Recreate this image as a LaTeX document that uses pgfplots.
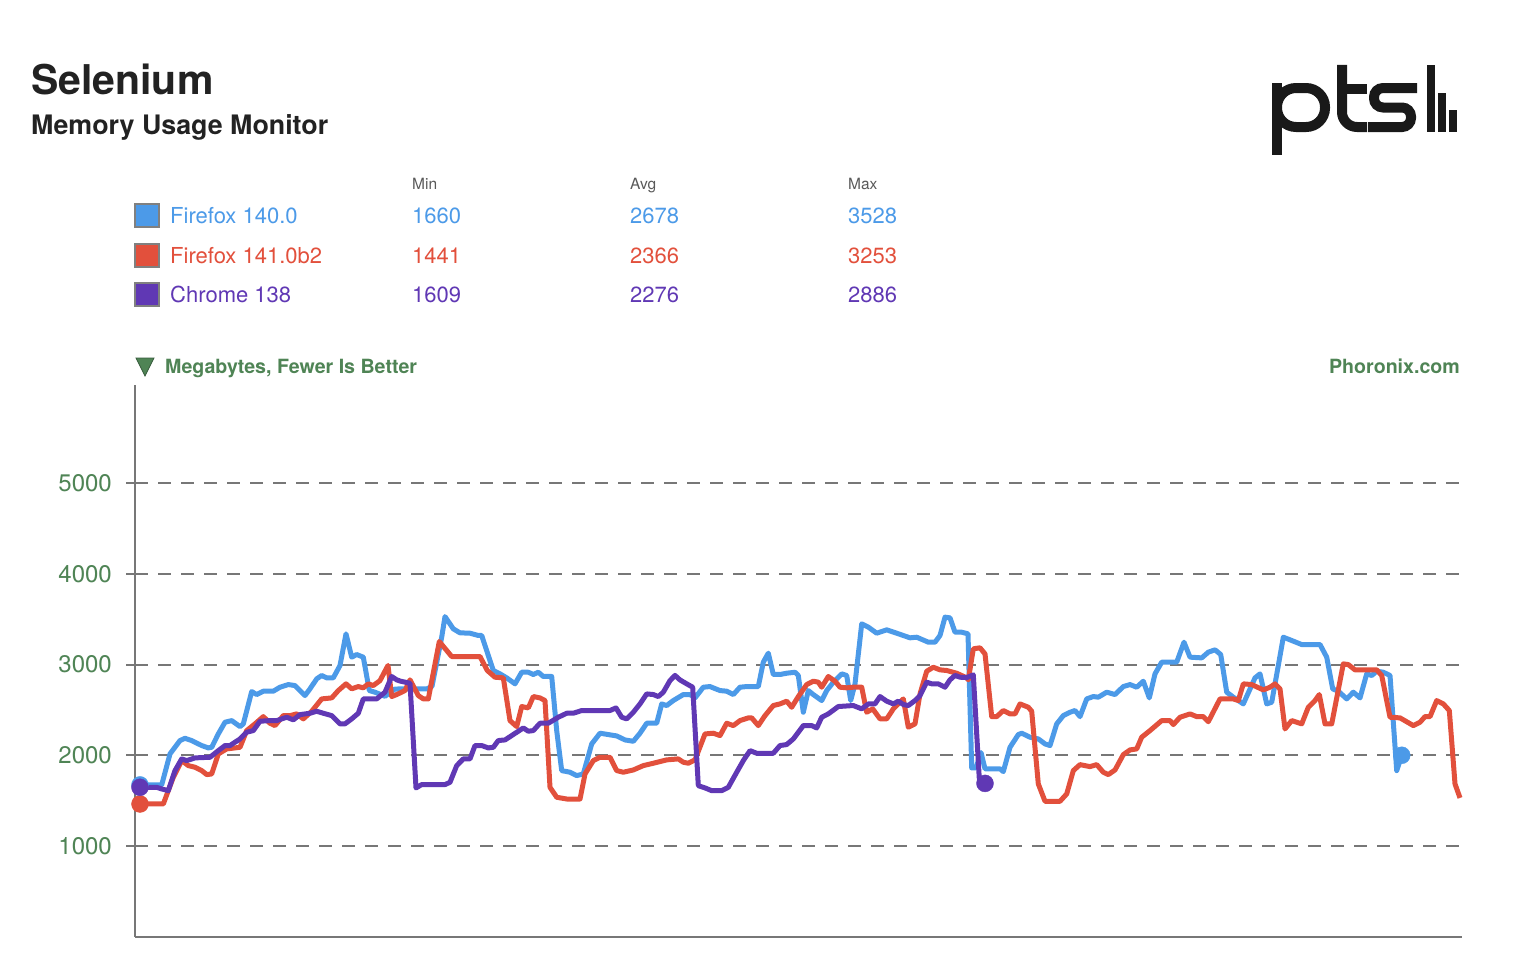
\documentclass[border=0pt]{standalone}
\usepackage{pgfplots}
\pgfplotsset{compat=1.18}
\usepackage{pgfplotstable}
\usepackage{fontspec}
\setmainfont{TeX Gyre Heros}
\definecolor{cblue}{HTML}{4C9AE8}
\definecolor{cred}{HTML}{E2503C}
\definecolor{cpurple}{HTML}{6038B4}
\definecolor{cgreen}{HTML}{4F8455}
\definecolor{cgrid}{HTML}{777777}
\definecolor{ctitle}{HTML}{222222}

\pgfplotstableread{
x y
140 1673
161.7 1673
170 2015
180 2162
185 2187
191.7 2162
201.7 2107
208.3 2081
211.7 2088
218.3 2235
225 2364
231.7 2382
240 2316
243.3 2345
251.7 2702
256.7 2669
263.3 2706
273.3 2706
280 2750
288.3 2779
295 2768
305 2658
310 2732
316.7 2842
321.7 2879
326.7 2853
333.3 2853
340 2989
346 3338
351.7 3081
356.7 3110
363.3 3081
369.3 2713
375 2695
385 2650
395 2730
410 2731
427 2731
432 2760
441.7 3301
445 3528
453.3 3393
460 3349
470 3345
478.3 3320
481.7 3320
488.3 3099
493.3 2934
500 2897
506.7 2853
515 2787
521.7 2915
528.3 2915
533.3 2890
538.3 2915
543.3 2868
551.7 2868
556.7 2272
561.7 1831
570 1813
576.7 1776
583.3 1794
591.7 2125
600 2243
608.3 2228
616.7 2213
625 2169
633.3 2154
640 2243
646.7 2353
656.7 2353
661.7 2566
666.7 2548
673.3 2603
683.3 2669
690 2669
695 2632
703.3 2750
710 2757
720 2713
726.7 2706
733.3 2669
740 2750
746.7 2757
758.3 2757
763.3 3026
768.3 3125
773.3 2890
780 2890
786.7 2904
795 2915
798.3 2879
803.3 2474
808.3 2713
813.3 2669
821.7 2603
826.7 2713
833.3 2805
841.7 2897
846.7 2879
850.7 2603
855 2787
861.7 3448
868.3 3412
876.7 3345
886.7 3382
896.7 3345
910 3294
916.7 3301
928.3 3246
935 3246
940 3320
945 3522
950 3514
955 3356
961.7 3356
968 3338
971.7 1860
976 1860
981 2030
985 1850
1000 1850
1003.3 1820
1010 2088
1018.3 2228
1021.7 2243
1030 2199
1038.3 2180
1045 2125
1050 2107
1056.7 2346
1063.3 2437
1070 2474
1075 2493
1080 2426
1086.7 2621
1093.3 2647
1098.3 2640
1106.7 2695
1115 2669
1123.3 2757
1130 2779
1136.7 2750
1143.3 2816
1149.3 2632
1155 2897
1161.7 3026
1176.7 3026
1184 3246
1190 3081
1201.7 3073
1208.3 3136
1215 3162
1220.7 3110
1226.7 2695
1233.3 2640
1243.3 2566
1255 2853
1260 2897
1266.7 2566
1271.7 2584
1278.3 2989
1283.3 3301
1290 3272
1301.7 3220
1320 3220
1326.7 3081
1332.7 2731
1338.3 2706
1346.7 2621
1353.3 2695
1360 2632
1366.7 2897
1371.7 2879
1376.7 2926
1383.3 2915
1390 2879
1396.7 1831
1401.7 2000
}\ffold

\pgfplotstableread{
x y
140 1463
163.3 1463
173.3 1757
181.7 1941
188.3 1886
195 1868
201.7 1831
206.7 1787
211.7 1794
218.3 2015
226.7 2070
235 2081
240 2088
246.7 2272
255 2346
263.3 2426
270 2353
275 2327
283.3 2437
290 2437
296.7 2456
303.3 2401
311.7 2485
321.7 2621
331.7 2632
338.3 2713
346 2787
351.7 2732
358.3 2757
363.3 2743
368.3 2787
373.3 2768
380 2823
388 2990
391.7 2647
396.7 2669
405 2713
410 2831
418.3 2658
423.3 2621
428.3 2621
439.3 3253
451.7 3088
465 3088
480 3088
487.3 2934
495 2860
503.3 2853
510 2382
516.7 2316
521.7 2537
528.3 2522
533.3 2647
540 2632
545 2603
550 1647
556.7 1537
566.7 1518
580 1518
585 1794
593.3 1941
600 1978
610 1978
616.7 1831
623.3 1813
633.3 1838
643.3 1886
653.3 1912
666.7 1949
678.3 1960
683.3 1923
688.3 1912
695 1949
705 2235
713.3 2243
720 2217
726.7 2353
733.3 2327
740 2382
748.3 2412
751.7 2412
758.3 2327
765 2437
773.3 2548
780 2566
786.7 2596
791.7 2529
798.3 2647
806.7 2779
813.3 2816
818.3 2805
821.7 2750
828.3 2868
835 2816
840 2750
846.7 2743
853.3 2750
861.7 2750
866.7 2474
872.7 2511
880 2401
886.7 2401
893.3 2511
903.3 2621
908.3 2309
915 2346
920 2676
926.7 2926
933.3 2970
940 2941
946.7 2934
956.7 2904
966.7 2853
968.3 2831
973.3 3173
980 3184
985 3117
991.7 2426
996.7 2426
1003.3 2493
1010 2456
1015 2456
1020 2566
1028.3 2529
1031.7 2485
1038.3 1684
1045 1493
1060 1493
1066.7 1574
1073.3 1831
1080 1897
1090 1875
1096.7 1897
1103.3 1813
1108.3 1787
1115 1838
1123.3 2007
1130 2059
1136.7 2070
1141.7 2199
1150 2272
1161.7 2382
1170 2382
1173.3 2338
1180 2419
1190 2456
1196.7 2426
1203.3 2426
1208.3 2370
1220 2621
1233.3 2621
1238.3 2603
1243.3 2787
1251.7 2779
1263.3 2720
1270 2750
1275 2787
1280 2732
1285 2290
1291.7 2382
1301.7 2346
1308.3 2529
1315 2603
1319.3 2669
1325 2346
1331.7 2346
1343.3 3007
1348.3 2999
1355 2941
1360 2941
1376.7 2941
1381.7 2879
1390 2419
1400 2412
1413.3 2327
1420 2364
1425 2426
1430 2426
1436.7 2603
1443.3 2566
1449.3 2493
1455 1684
1460 1530
}\ffnew

\pgfplotstableread{
x y
140 1647
156.7 1647
161.7 1629
168.3 1610
175 1831
181.7 1960
186.7 1941
195 1971
210 1978
218.3 2051
225 2107
230 2107
240 2180
246.7 2254
253.3 2272
260 2375
270 2382
276.7 2382
286.7 2419
293.3 2390
300 2448
310 2463
316.7 2485
323.3 2463
331.7 2437
340 2346
345 2346
351.7 2401
358.3 2463
363.3 2621
376.7 2621
385 2695
391.7 2868
396.7 2831
400.7 2816
410 2794
416 1640
421.7 1677
445 1677
450 1702
456.7 1886
463.3 1960
470 1960
475 2107
481.7 2107
488.3 2081
493.3 2088
498.3 2162
505 2169
511.7 2217
523.3 2301
528.3 2265
533.3 2272
540 2353
548.3 2353
558.3 2419
566.7 2463
573.3 2463
581.7 2493
610 2493
616 2522
621.7 2419
626.7 2401
633.3 2474
640 2566
646.7 2676
653.3 2669
658.3 2647
663.3 2695
670 2823
675 2880
680 2830
686.7 2787
692.7 2750
698.3 1665
705 1640
711.7 1610
721.7 1610
728.3 1647
736.7 1813
743.3 1941
750 2051
756.7 2022
773.3 2022
780 2107
786.7 2118
793.3 2180
803.3 2327
811.7 2327
816.7 2301
821.7 2419
828.3 2456
838.3 2537
853.3 2548
861.7 2511
868.3 2566
875 2566
880 2647
886.7 2596
893.3 2566
898.3 2596
903.3 2559
908.3 2548
915 2603
920 2658
926.7 2805
931.7 2787
938.3 2787
945 2750
950 2831
955 2880
960 2860
966.7 2856
973.3 2886
979.3 1739
985 1690
}\chrome

\newcommand{\fs}[1]{\fontsize{#1}{#1}\selectfont}

\begin{document}
\begin{tikzpicture}[x=1pt,y=1pt]
\path[use as bounding box] (0,0) rectangle (1514,-974);
% titles
\node[anchor=base west,inner sep=0pt,text=ctitle] at (31,-94) {\fs{41}\bfseries Selenium};
\node[anchor=base west,inner sep=0pt,text=ctitle] at (31,-134) {\fs{26.8}\bfseries Memory Usage Monitor};
% table header
\foreach \xx/\tt in {412/Min,630/Avg,848/Max}
  \node[anchor=base west,inner sep=0pt,text=black!65] at (\xx,-189) {\fs{15.5}\tt};
% legend rows
\foreach \yy/\cc/\nn/\mi/\av/\ma in {215/cblue/Firefox 140.0/1660/2678/3528,255/cred/Firefox 141.0b2/1441/2366/3253,294/cpurple/Chrome 138/1609/2276/2886}{
  \fill[\cc,draw=black!50,line width=2pt] (135,-\yy+11.5) rectangle (159,-\yy-11.5);
  \node[anchor=base west,inner sep=0pt,text=\cc] at (170,-\yy-8) {\fs{22}\nn};
  \node[anchor=base west,inner sep=0pt,text=\cc] at (412,-\yy-8) {\fs{22}\mi};
  \node[anchor=base west,inner sep=0pt,text=\cc] at (630,-\yy-8) {\fs{22}\av};
  \node[anchor=base west,inner sep=0pt,text=\cc] at (848,-\yy-8) {\fs{22}\ma};
}
% units line
\fill[cgreen,draw=cgreen!70!black,line width=0.8pt] (136,-358) -- (154,-358) -- (145,-376) -- cycle;
\node[anchor=base west,inner sep=0pt,text=cgreen] at (165,-373) {\fs{19.6}\bfseries Megabytes, Fewer Is Better};
\node[anchor=base east,inner sep=0pt,text=cgreen] at (1460,-373) {\fs{19.6}\bfseries Phoronix.com};
% logo
\begin{scope}[black!90,line width=10pt]
  \draw[line cap=butt] (1277,-83) -- (1277,-155);
  \draw[rounded corners=19pt] (1277,-88) rectangle (1325,-127);
  \draw[rounded corners=15pt,line cap=butt] (1342,-65) -- (1342,-127) -- (1367,-127);
  \draw[line cap=butt] (1337,-89) -- (1367,-89);
  \draw[rounded corners=9pt,line cap=butt] (1417,-88) -- (1374,-88) -- (1374,-107.5) -- (1411,-107.5) -- (1411,-127) -- (1368,-127);
  \fill (1427,-65) rectangle (1435,-132);
  \fill (1438,-93) rectangle (1446,-132);
  \fill (1449,-110) rectangle (1457,-132);
\end{scope}
\begin{axis}[
  at={(135pt,-936.75pt)}, anchor=south west,
  scale only axis, width=1327pt, height=551.75pt,
  xmin=135, xmax=1462, ymin=0, ymax=6080,
  clip=false,
  axis x line=bottom, axis y line=left,
  axis line style={-, draw=cgrid, line width=2pt},
  xtick=\empty,
  ytick={1000,2000,3000,4000,5000},
  tick align=outside, major tick length=9pt,
  ytick style={draw=cgrid, line width=2pt},
  ymajorgrids,
  grid style={draw=cgrid, line width=2pt, dash pattern=on 13pt off 10pt},
  /pgf/number format/assume math mode=true,
  /pgf/number format/1000 sep={},
  yticklabel style={text=cgreen, font=\fs{24}, inner sep=0pt, xshift=-14pt},
]
\addplot[cblue, line width=5pt, line join=round] table {\ffold};
\addplot[cred, line width=5pt, line join=round] table {\ffnew};
\addplot[cpurple, line width=5pt, line join=round] table {\chrome};
\addplot[only marks, mark=*, mark size=8.5pt, cblue] coordinates {(140,1673) (1401.7,2000)};
\addplot[only marks, mark=*, mark size=8.5pt, cred] coordinates {(140,1463)};
\addplot[only marks, mark=*, mark size=8.5pt, cpurple] coordinates {(140,1647) (985,1690)};
\end{axis}
\end{tikzpicture}
\end{document}
